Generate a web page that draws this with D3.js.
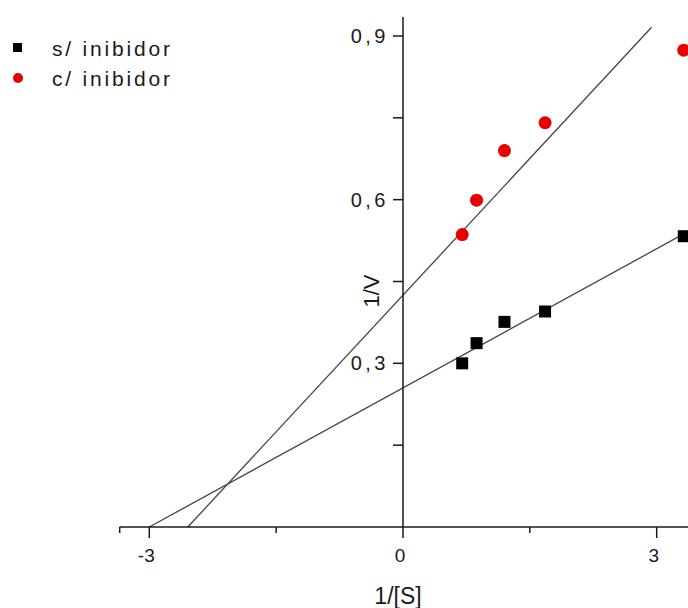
<!DOCTYPE html>
<html>
<head>
<meta charset="utf-8">
<script src="https://cdn.jsdelivr.net/npm/d3@7"></script>
<style>
    body { margin: 0; background: #fff; }
    svg { display: block; font-family: "Liberation Sans", Arial, sans-serif; }
</style>
</head>
<body>
<div id="chart"></div>
<script>
// 1/[S] values (same for both series)
const inv_s = [0.70, 0.87, 1.20, 1.68, 3.32];
// 1/V without inhibitor
const inv_v_sem = [0.300, 0.337, 0.376, 0.395, 0.533];
// 1/V with inhibitor
const inv_v_com = [0.536, 0.599, 0.690, 0.741, 0.874];
// linear fits: [intercept, slope, x start, x end]
const fit_sem = [0.255, 0.085, -3.0, 3.5];
const fit_com = [0.425, 0.167, -2.545, 2.94];
const legend_labels = ["s/ inibidor", "c/ inibidor"];
const x_ticks = [-3, 0, 3];
const x_minor = [-1.5, 1.5];
const y_ticks = [0.3, 0.6, 0.9];
const y_minor = [0.15, 0.45, 0.75];

function draw_chart() {
    const width = 688;
    const height = 608;
    const red = "#e60000";
    const axis_color = "#1a1a1a";
    const line_color = "#444";
    const text_color = "#1a1a1a";

    const xScale = d3.scaleLinear().domain([-3, 3]).range([149.3, 656.7]);
    const yScale = d3.scaleLinear().domain([0, 0.9]).range([527, 36]);
    const fmt = d => d3.format(".1f")(d).replace(".", ",");

    const svg = d3.create("svg")
        .attr("width", width)
        .attr("height", height);

    // fit lines
    [fit_sem, fit_com].forEach(f => {
        svg.append("line")
            .attr("x1", xScale(f[2]))
            .attr("y1", yScale(f[0] + f[1] * f[2]))
            .attr("x2", xScale(f[3]))
            .attr("y2", yScale(f[0] + f[1] * f[3]))
            .attr("stroke", line_color)
            .attr("stroke-width", 1.3);
    });

    // x axis
    const x0 = -3.35;
    const gx = svg.append("g");
    gx.append("line")
        .attr("x1", xScale(x0)).attr("x2", width)
        .attr("y1", yScale(0)).attr("y2", yScale(0))
        .attr("stroke", axis_color).attr("stroke-width", 1.5);
    gx.append("line")
        .attr("x1", xScale(x0)).attr("x2", xScale(x0))
        .attr("y1", yScale(0)).attr("y2", yScale(0) + 6)
        .attr("stroke", axis_color).attr("stroke-width", 1.5);
    gx.selectAll(".major").data(x_ticks).join("line")
        .attr("x1", d => xScale(d)).attr("x2", d => xScale(d))
        .attr("y1", yScale(0)).attr("y2", yScale(0) + 11)
        .attr("stroke", axis_color).attr("stroke-width", 1.5);
    gx.selectAll(".minor").data(x_minor).join("line")
        .attr("x1", d => xScale(d)).attr("x2", d => xScale(d))
        .attr("y1", yScale(0)).attr("y2", yScale(0) + 6)
        .attr("stroke", axis_color).attr("stroke-width", 1.5);
    gx.selectAll("text").data(x_ticks).join("text")
        .attr("x", d => xScale(d) - 3)
        .attr("y", yScale(0) + 35)
        .attr("text-anchor", "middle")
        .attr("font-size", 19)
        .attr("fill", text_color)
        .text(d => d < 0 ? "-" + Math.abs(d) : d);

    // y axis
    const gy = svg.append("g");
    gy.append("line")
        .attr("x1", xScale(0)).attr("x2", xScale(0))
        .attr("y1", yScale(0.935)).attr("y2", yScale(0))
        .attr("stroke", axis_color).attr("stroke-width", 1.5);
    gy.selectAll(".ticks").data(y_ticks.concat(y_minor)).join("line")
        .attr("x1", xScale(0) - 10).attr("x2", xScale(0))
        .attr("y1", d => yScale(d)).attr("y2", d => yScale(d))
        .attr("stroke", axis_color).attr("stroke-width", 1.5);
    gy.selectAll("text").data(y_ticks).join("text")
        .attr("x", xScale(0) - 14)
        .attr("y", d => yScale(d) + 7)
        .attr("text-anchor", "end")
        .attr("font-size", 20)
        .attr("letter-spacing", 3.5)
        .attr("fill", text_color)
        .text(fmt);

    // axis titles
    svg.append("text")
        .attr("x", 398).attr("y", 604)
        .attr("text-anchor", "middle")
        .attr("font-size", 23)
        .attr("fill", text_color)
        .text("1/[S]");
    svg.append("text")
        .attr("transform", "translate(379,291) rotate(-90)")
        .attr("text-anchor", "middle")
        .attr("font-size", 22)
        .attr("fill", text_color)
        .text("1/V");

    // points
    svg.append("g").selectAll("rect")
        .data(d3.zip(inv_s, inv_v_sem)).join("rect")
        .attr("x", d => xScale(d[0]) - 6)
        .attr("y", d => yScale(d[1]) - 6)
        .attr("width", 12).attr("height", 12)
        .attr("fill", "#000");
    svg.append("g").selectAll("circle")
        .data(d3.zip(inv_s, inv_v_com)).join("circle")
        .attr("cx", d => xScale(d[0]))
        .attr("cy", d => yScale(d[1]))
        .attr("r", 6.5)
        .attr("fill", red);

    // legend
    const legend = svg.append("g");
    legend.append("rect")
        .attr("x", 13).attr("y", 43).attr("width", 9).attr("height", 9)
        .attr("fill", "#000");
    legend.append("circle")
        .attr("cx", 18).attr("cy", 78).attr("r", 5)
        .attr("fill", red);
    legend.selectAll("text").data(legend_labels).join("text")
        .attr("x", 52)
        .attr("y", (d, i) => 56 + i * 30)
        .attr("font-size", 21)
        .attr("letter-spacing", 2.8)
        .attr("fill", text_color)
        .text(d => d);

    d3.select("#chart").node().append(svg.node());
}

draw_chart();
</script>
</body>
</html>
